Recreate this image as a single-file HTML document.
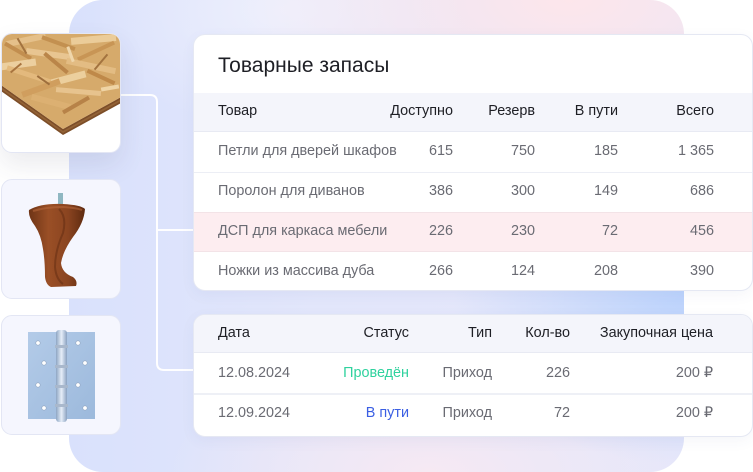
<!DOCTYPE html>
<html><head><meta charset="utf-8">
<style>
*{margin:0;padding:0;box-sizing:border-box}
html,body{width:753px;height:470px;overflow:hidden;background:#fff;font-family:"Liberation Sans","Noto Sans CJK SC",sans-serif}
.abs{position:absolute}
#blob{left:69px;top:0;width:615px;height:472px;border-radius:34px;
background:
radial-gradient(ellipse 230px 170px at 614px 295px,#bcd3fc 0%,rgba(188,211,252,0) 100%),
radial-gradient(ellipse 330px 160px at 500px 0px,#fde6eb 0%,rgba(253,230,235,0) 100%),
radial-gradient(ellipse 260px 110px at 360px 472px,#f6e9f3 0%,rgba(246,233,243,0) 100%),
radial-gradient(ellipse 200px 120px at 220px 10px,#eef0fd 0%,rgba(238,240,253,0) 100%),
linear-gradient(90deg,#d9e1fc 0%,#e2e6fb 40%,#e6e7fa 100%);}
.card{position:absolute;background:#fff;border:1px solid #e5e8f3;border-radius:12px;overflow:hidden;box-shadow:0 4px 14px rgba(60,70,130,0.05)}
.t{position:absolute;font-size:14.4px;line-height:16px;color:#6a6b73;white-space:nowrap}
.h{color:#1e1f25}
.r{text-align:right}
.img{position:absolute;left:1px;width:120px;height:120px;border-radius:11px;border:1px solid #e3e6f4;background:#f5f6fe;overflow:hidden}
</style></head><body>
<div id="blob" class="abs"></div>

<svg class="abs" style="left:0;top:0" width="753" height="470">
<path d="M121 95 H150 Q157 95 157 102 V363 Q157 370 164 370 H194 M157 230 H194" fill="none" stroke="#fff" stroke-width="2" opacity="0.95"/>
</svg>

<!-- image card A: OSB -->
<div class="img" style="top:33px;background:#fff;box-shadow:0 12px 26px rgba(60,60,90,0.10)">
<svg width="120" height="120" viewBox="1 33 120 120" style="display:block">
<defs><clipPath id="osb"><polygon points="0,32 122,32 122,95 62,128 0,84"/></clipPath></defs>
<polygon points="0,84 62,128 122,95 122,101 62,134 0,90" fill="#7d4e28"/>
<polygon points="0,86 62,130 122,97 122,99 62,132 0,88" fill="#a0703f" opacity="0.6"/>
<g clip-path="url(#osb)">
<rect x="0" y="32" width="122" height="100" fill="#d6aa6b"/>
<g opacity="0.85">
<rect x="5" y="36" width="40" height="6" fill="#e8c590" transform="rotate(-12 25 39)"/>
<rect x="40" y="40" width="35" height="4" fill="#c08c4c" transform="rotate(20 57 42)"/>
<rect x="70" y="35" width="45" height="7" fill="#efd3a2" transform="rotate(-5 92 38)"/>
<rect x="2" y="48" width="30" height="4" fill="#bf8a4a" transform="rotate(30 17 50)"/>
<rect x="25" y="50" width="45" height="6" fill="#eccb98" transform="rotate(8 47 53)"/>
<rect x="75" y="48" width="40" height="4" fill="#c69252" transform="rotate(-25 95 50)"/>
<rect x="0" y="60" width="35" height="7" fill="#f0d6a8" transform="rotate(-8 17 63)"/>
<rect x="40" y="60" width="30" height="4" fill="#b57f44" transform="rotate(40 55 62)"/>
<rect x="65" y="62" width="50" height="6" fill="#e6c088" transform="rotate(12 90 65)"/>
<rect x="5" y="72" width="50" height="5" fill="#e5bd80" transform="rotate(18 30 74)"/>
<rect x="50" y="74" width="35" height="7" fill="#f0d6a6" transform="rotate(-15 67 77)"/>
<rect x="85" y="74" width="30" height="4" fill="#bb8444" transform="rotate(25 100 76)"/>
<rect x="20" y="84" width="40" height="6" fill="#cf9d5c" transform="rotate(-20 40 87)"/>
<rect x="55" y="88" width="45" height="5" fill="#eac894" transform="rotate(5 77 90)"/>
<rect x="30" y="98" width="40" height="6" fill="#ddb274" transform="rotate(15 50 101)"/>
<rect x="60" y="102" width="30" height="4" fill="#b27c42" transform="rotate(-30 75 104)"/>
<rect x="12" y="44" width="18" height="2" fill="#9a6a38" transform="rotate(60 21 45)"/>
<rect x="90" y="60" width="20" height="2" fill="#9a6a38" transform="rotate(-50 100 61)"/>
<rect x="35" y="78" width="15" height="2" fill="#956535" transform="rotate(35 42 79)"/>
<rect x="100" y="85" width="18" height="4" fill="#f4dcb0" transform="rotate(-10 109 87)"/>
<rect x="8" y="66" width="14" height="2" fill="#a06c38" transform="rotate(-40 15 67)"/>
<rect x="62" y="52" width="16" height="3" fill="#f4deb6" transform="rotate(70 70 53)"/>
</g>
</g>
</svg>
</div>

<!-- image card B: leg -->
<div class="img" style="top:179px">
<svg width="120" height="120" viewBox="1 179 120 120" style="display:block">
<defs><linearGradient id="wood" x1="0" x2="1" y1="0" y2="0">
<stop offset="0" stop-color="#6e3416"/><stop offset="0.35" stop-color="#9a4f26"/><stop offset="0.7" stop-color="#8a4420"/><stop offset="1" stop-color="#5e2a10"/></linearGradient></defs>
<rect x="57" y="192" width="5" height="14" fill="#8fb7c2"/>
<path d="M28 209 Q40 202 62 203 Q80 204 84 208 Q83 222 72 236 Q62 250 60 262 Q61 272 72 276 Q77 280 75 285 L50 286 Q45 284 44 276 Q44 260 42 248 Q40 234 34 225 Q27 216 28 209 Z" fill="url(#wood)"/>
<path d="M58 208 Q66 216 62 232 Q54 250 54 266 Q55 278 62 283" fill="none" stroke="#5a2810" stroke-width="2" opacity="0.45"/>
<path d="M32 210 Q45 206 62 206 Q76 207 81 209" fill="none" stroke="#b4663a" stroke-width="2" opacity="0.6"/>
</svg>
</div>

<!-- image card C: hinge -->
<div class="img" style="top:315px">
<svg width="120" height="120" viewBox="1 315 120 120" style="display:block">
<defs><linearGradient id="plate" x1="0" x2="1" y1="0" y2="1">
<stop offset="0" stop-color="#b3cbe8"/><stop offset="1" stop-color="#9cb9dc"/></linearGradient>
<linearGradient id="pin" x1="0" x2="1"><stop offset="0" stop-color="#8ea6c4"/><stop offset="0.5" stop-color="#e6eef8"/><stop offset="1" stop-color="#8aa1c0"/></linearGradient></defs>
<rect x="27" y="331" width="67" height="87" fill="url(#plate)"/>
<rect x="55" y="329" width="11" height="92" rx="3" fill="url(#pin)"/>
<g fill="#a9b8cc"><rect x="54" y="344" width="13" height="3"/><rect x="54" y="364" width="13" height="3"/><rect x="54" y="384" width="13" height="3"/><rect x="54" y="403" width="13" height="3"/></g>
<g fill="#fff" stroke="#8ea3bf" stroke-width="0.6">
<circle cx="37" cy="342" r="2.2"/><circle cx="77" cy="342" r="2.2"/>
<circle cx="43" cy="362" r="2.2"/><circle cx="84" cy="362" r="2.2"/>
<circle cx="37" cy="384" r="2.2"/><circle cx="77" cy="384" r="2.2"/>
<circle cx="43" cy="407" r="2.2"/><circle cx="84" cy="407" r="2.2"/>
</g>
</svg>
</div>

<!-- Card 1 -->
<div class="card" style="left:193px;top:34px;width:560px;height:257px">
<div class="abs" style="left:0;top:58px;width:560px;height:39px;background:#f4f5fb;border-bottom:1px solid #e8eaf3"></div>
<div class="abs" style="left:0;top:137px;width:560px;height:1px;background:#eceef5"></div>
<div class="abs" style="left:0;top:177px;width:560px;height:40px;background:#fdedf0;border-top:1px solid #f3e3e7;border-bottom:1px solid #f3e3e7"></div>
<div class="t h" style="left:24px;top:18px;font-size:21px;line-height:25px">Товарные запасы</div>
</div>

<div class="t h" style="left:218px;top:103px">Товар</div>
<div class="t h r" style="left:353px;top:103px;width:100px">Доступно</div>
<div class="t h r" style="left:435px;top:103px;width:100px">Резерв</div>
<div class="t h r" style="left:518px;top:103px;width:100px">В пути</div>
<div class="t h r" style="left:614px;top:103px;width:100px">Всего</div>

<div class="t" style="left:218px;top:143px">Петли для дверей шкафов</div>
<div class="t r" style="left:353px;top:143px;width:100px">615</div>
<div class="t r" style="left:435px;top:143px;width:100px">750</div>
<div class="t r" style="left:518px;top:143px;width:100px">185</div>
<div class="t r" style="left:614px;top:143px;width:100px">1 365</div>

<div class="t" style="left:218px;top:183px">Поролон для диванов</div>
<div class="t r" style="left:353px;top:183px;width:100px">386</div>
<div class="t r" style="left:435px;top:183px;width:100px">300</div>
<div class="t r" style="left:518px;top:183px;width:100px">149</div>
<div class="t r" style="left:614px;top:183px;width:100px">686</div>

<div class="t" style="left:218px;top:223px">ДСП для каркаса мебели</div>
<div class="t r" style="left:353px;top:223px;width:100px">226</div>
<div class="t r" style="left:435px;top:223px;width:100px">230</div>
<div class="t r" style="left:518px;top:223px;width:100px">72</div>
<div class="t r" style="left:614px;top:223px;width:100px">456</div>

<div class="t" style="left:218px;top:263px">Ножки из массива дуба</div>
<div class="t r" style="left:353px;top:263px;width:100px">266</div>
<div class="t r" style="left:435px;top:263px;width:100px">124</div>
<div class="t r" style="left:518px;top:263px;width:100px">208</div>
<div class="t r" style="left:614px;top:263px;width:100px">390</div>

<!-- Card 2 -->
<div class="card" style="left:193px;top:314px;width:560px;height:123px">
<div class="abs" style="left:0;top:0;width:560px;height:38px;background:#f4f5fb;border-bottom:1px solid #e8eaf3"></div>
<div class="abs" style="left:0;top:78px;width:560px;height:2px;background:#eef0f6"></div>
</div>
<div class="t h" style="left:218px;top:325px">Дата</div>
<div class="t h r" style="left:309px;top:325px;width:100px">Статус</div>
<div class="t h r" style="left:392px;top:325px;width:100px">Тип</div>
<div class="t h r" style="left:470px;top:325px;width:100px">Кол-во</div>
<div class="t h r" style="left:563px;top:325px;width:150px">Закупочная цена</div>

<div class="t" style="left:218px;top:365px">12.08.2024</div>
<div class="t r" style="left:309px;top:365px;width:100px;color:#2fd29e">Проведён</div>
<div class="t r" style="left:392px;top:365px;width:100px">Приход</div>
<div class="t r" style="left:470px;top:365px;width:100px">226</div>
<div class="t r" style="left:563px;top:365px;width:150px">200 ₽</div>

<div class="t" style="left:218px;top:405px">12.09.2024</div>
<div class="t r" style="left:309px;top:405px;width:100px;color:#3b5fe3">В пути</div>
<div class="t r" style="left:392px;top:405px;width:100px">Приход</div>
<div class="t r" style="left:470px;top:405px;width:100px">72</div>
<div class="t r" style="left:563px;top:405px;width:150px">200 ₽</div>
</body></html>
